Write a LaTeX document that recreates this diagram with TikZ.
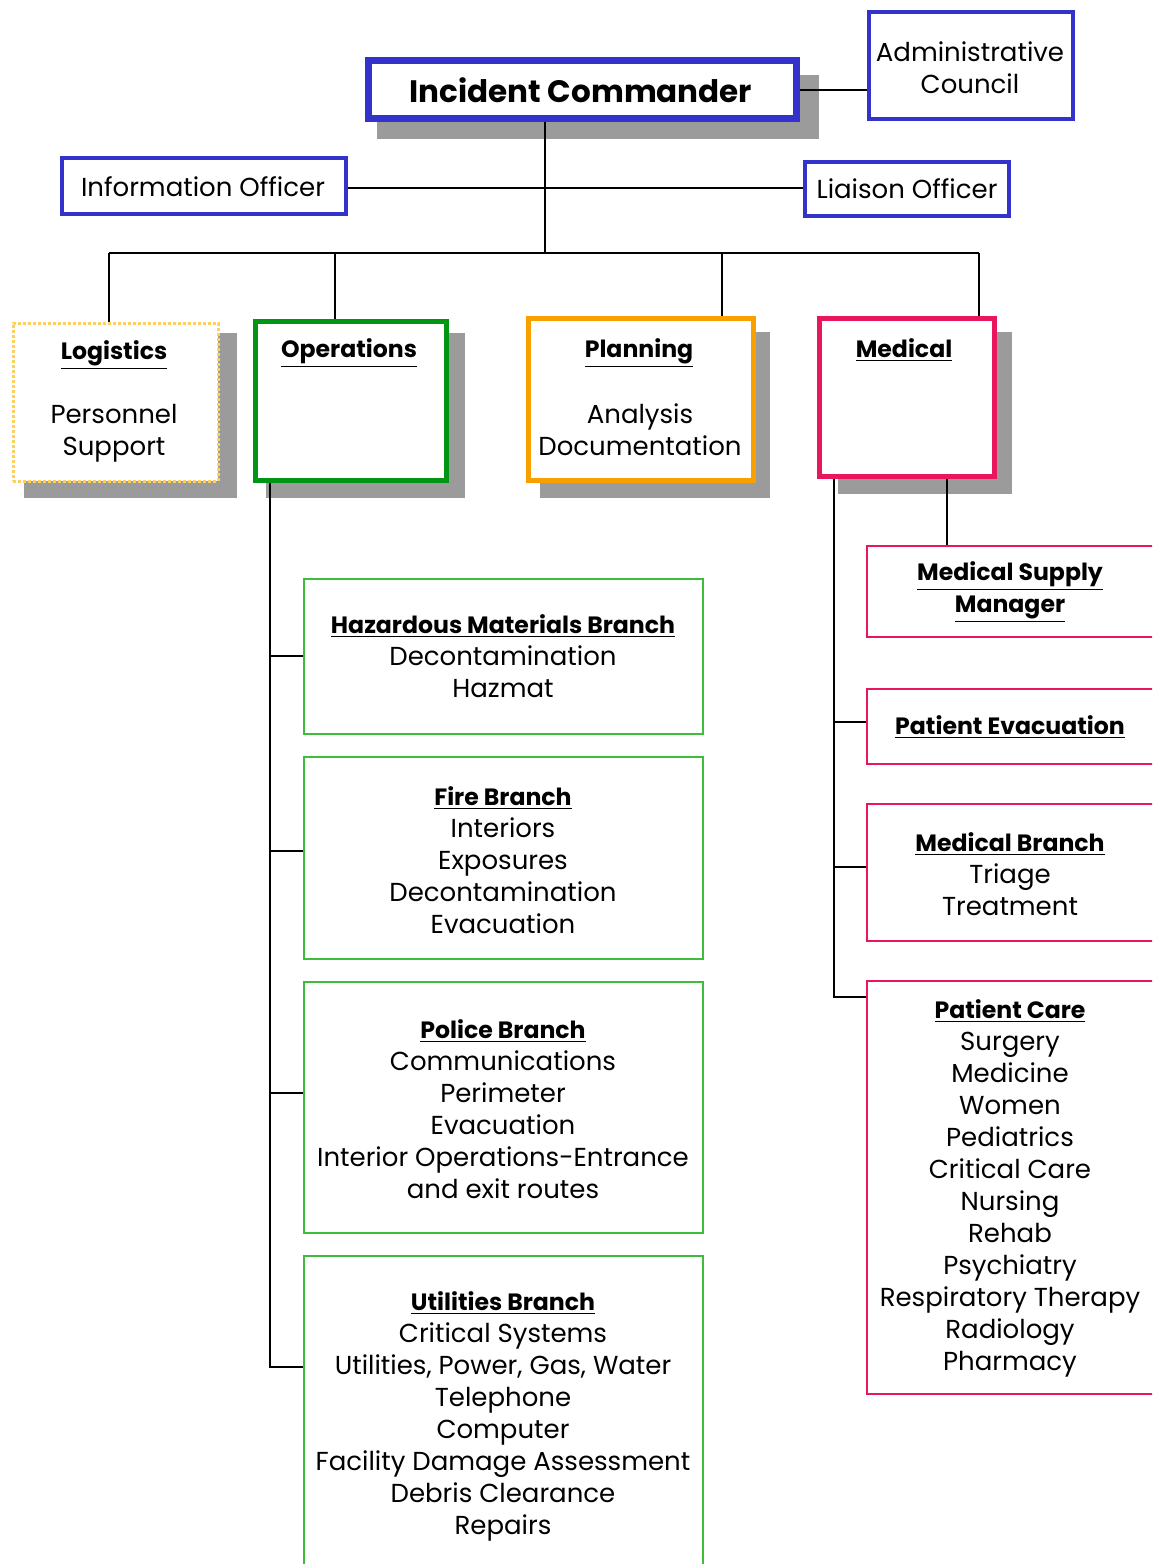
\documentclass[tikz,border=0pt]{standalone}
\usepackage{fontspec}
\setmainfont{Poppins}
\usetikzlibrary{fit}
\definecolor{icblue}{RGB}{51,51,204}
\definecolor{opgreen}{RGB}{0,150,20}
\definecolor{subgreen}{RGB}{60,190,60}
\definecolor{planorange}{RGB}{247,160,0}
\definecolor{medpink}{RGB}{232,22,92}
\definecolor{logyellow}{RGB}{255,208,90}
\definecolor{shadowgray}{RGB}{155,155,155}
\tikzset{
  box/.style={draw, fill=white, inner sep=0pt},
  shade/.style={fill=shadowgray},
  txt/.style={font=\fontsize{13}{16}\selectfont, align=center, inner sep=0pt},
  ttl/.style={font=\fontsize{11.8}{16}\selectfont\bfseries, align=center, inner sep=0pt},
  conn/.style={line width=1pt, black},
}
\newcommand{\hd}[1]{{\fontsize{11.8}{16}\selectfont\underline{\textbf{#1}}}}
\begin{document}
\begin{tikzpicture}[x=0.5pt,y=-0.5pt]
\clip (0,0) rectangle (1152,1564);
\fill[white] (0,0) rectangle (1152,1564);

% ---- shadows ----
\fill[shade] (377,75) rectangle (819,139);
\fill[shade] (24,333) rectangle (237,498);
\fill[shade] (266,333) rectangle (465,498);
\fill[shade] (540,332) rectangle (770,498);
\fill[shade] (838,332) rectangle (1012,494);

% ---- top boxes ----
\node[box, draw=icblue, line width=3.5pt, fit={(368.5,60.5) (796.5,118.5)}] (ic) {};
\node[txt, font=\fontsize{15.5}{20}\selectfont\bfseries] (ict) at (581,90) {Incident Commander};
\node[box, draw=icblue, line width=2pt, fit={(869,12) (1073,119)}] (adm) {};
\node[txt] (admt) at (970,68) {Administrative\\Council};
\node[box, draw=icblue, line width=2pt, fit={(62,158) (346,214)}] (info) {};
\node[txt] (infot) at (203,187) {Information Officer};
\node[box, draw=icblue, line width=2pt, fit={(805,162) (1009,216)}] (lia) {};
\node[txt] (liat) at (907,189) {Liaison Officer};

% ---- section boxes ----
\node[box, draw=logyellow, line width=1.5pt, densely dotted, fit={(13,323) (218,481)}] (log) {};
\node[ttl] (logt) at (114,355) {\hd{Logistics}};
\node[txt] (logi) at (114,433) {Personnel\\Support};
\node[box, draw=opgreen, line width=2.5pt, fit={(255,321) (446,480)}] (ops) {};
\node[ttl] (opst) at (349,353) {\hd{Operations}};
\node[box, draw=planorange, line width=2.5pt, fit={(528,318) (753,480)}] (plan) {};
\node[ttl] (plant) at (639,353) {\hd{Planning}};
\node[txt] (plani) at (640,430) {Analysis\\Documentation};
\node[box, draw=medpink, line width=2.5pt, fit={(819,318) (994,476)}] (med) {};
\node[ttl] (medt) at (904,350) {\hd{Medical}};

% ---- operations branches ----
\node[box, draw=subgreen, line width=1pt, fit={(304,579) (703,734)}] (haz) {};
\node[txt] (hazt) at (503,656) {\hd{Hazardous Materials Branch}\\Decontamination\\Hazmat};
\node[box, draw=subgreen, line width=1pt, fit={(304,757) (703,959)}] (fire) {};
\node[txt] (firet) at (503,860) {\hd{Fire Branch}\\Interiors\\Exposures\\Decontamination\\Evacuation};
\node[box, draw=subgreen, line width=1pt, fit={(304,982) (703,1233)}] (pol) {};
\node[txt] (polt) at (503,1109) {\hd{Police Branch}\\Communications\\Perimeter\\Evacuation\\Interior Operations-Entrance\\and exit routes};
\node[box, draw=subgreen, line width=1pt, fit={(304,1256) (703,1600)}] (util) {};
\node[txt] (utilt) at (503,1416) {\hd{Utilities Branch}\\Critical Systems\\Utilities, Power, Gas, Water\\Telephone\\Computer\\Facility Damage Assessment\\Debris Clearance\\Repairs};

% ---- medical branches ----
\node[box, draw=medpink, line width=1pt, fit={(867,546) (1170,637)}] (sup) {};
\node[txt] (supt) at (1010,592) {\hd{Medical Supply}\\\hd{Manager}};
\node[box, draw=medpink, line width=1pt, fit={(867,689) (1170,764)}] (evac) {};
\node[txt] (evact) at (1010,727) {\hd{Patient Evacuation}};
\node[box, draw=medpink, line width=1pt, fit={(867,804) (1170,941)}] (mbr) {};
\node[txt] (mbrt) at (1010,874) {\hd{Medical Branch}\\Triage\\Treatment};
\node[box, draw=medpink, line width=1pt, fit={(867,981) (1170,1394)}] (care) {};
\node[txt] (caret) at (1010,1188) {\hd{Patient Care}\\Surgery\\Medicine\\Women\\Pediatrics\\Critical Care\\Nursing\\Rehab\\Psychiatry\\Respiratory Therapy\\Radiology\\Pharmacy};

% ---- connectors ----
\coordinate (bus) at (545,253);
\coordinate (d1) at (109,253);
\coordinate (d2) at (335,253);
\coordinate (d3) at (722,253);
\coordinate (d4) at (979,253);
\draw[conn] (bus |- ic.south) -- (bus);
\draw[conn] (ic.east) -- (ic.east -| adm.west);
\draw[conn] (info.east |- 0,188) -- (lia.west |- 0,188);
\draw[conn] (d1) -- (d4);
\draw[conn] (d1) -- (d1 |- log.north);
\draw[conn] (d2) -- (d2 |- ops.north);
\draw[conn] (d3) -- (d3 |- plan.north);
\draw[conn] (d4) -- (d4 |- med.north);

\coordinate (ox) at (270,0);
\coordinate (o1) at (270,656);
\coordinate (o2) at (270,851);
\coordinate (o3) at (270,1093);
\coordinate (o4) at (270,1367);
\draw[conn] (ox |- ops.south) -- (o4) -- (o4 -| util.west);
\draw[conn] (o1) -- (o1 -| haz.west);
\draw[conn] (o2) -- (o2 -| fire.west);
\draw[conn] (o3) -- (o3 -| pol.west);

\coordinate (mx) at (834,0);
\coordinate (m1) at (834,722);
\coordinate (m2) at (834,867);
\coordinate (m3) at (834,997);
\coordinate (sx) at (947,0);
\draw[conn] (mx |- med.south) -- (m3) -- (m3 -| care.west);
\draw[conn] (m1) -- (m1 -| evac.west);
\draw[conn] (m2) -- (m2 -| mbr.west);
\draw[conn] (sx |- med.south) -- (sx |- sup.north);
\end{tikzpicture}
\end{document}
